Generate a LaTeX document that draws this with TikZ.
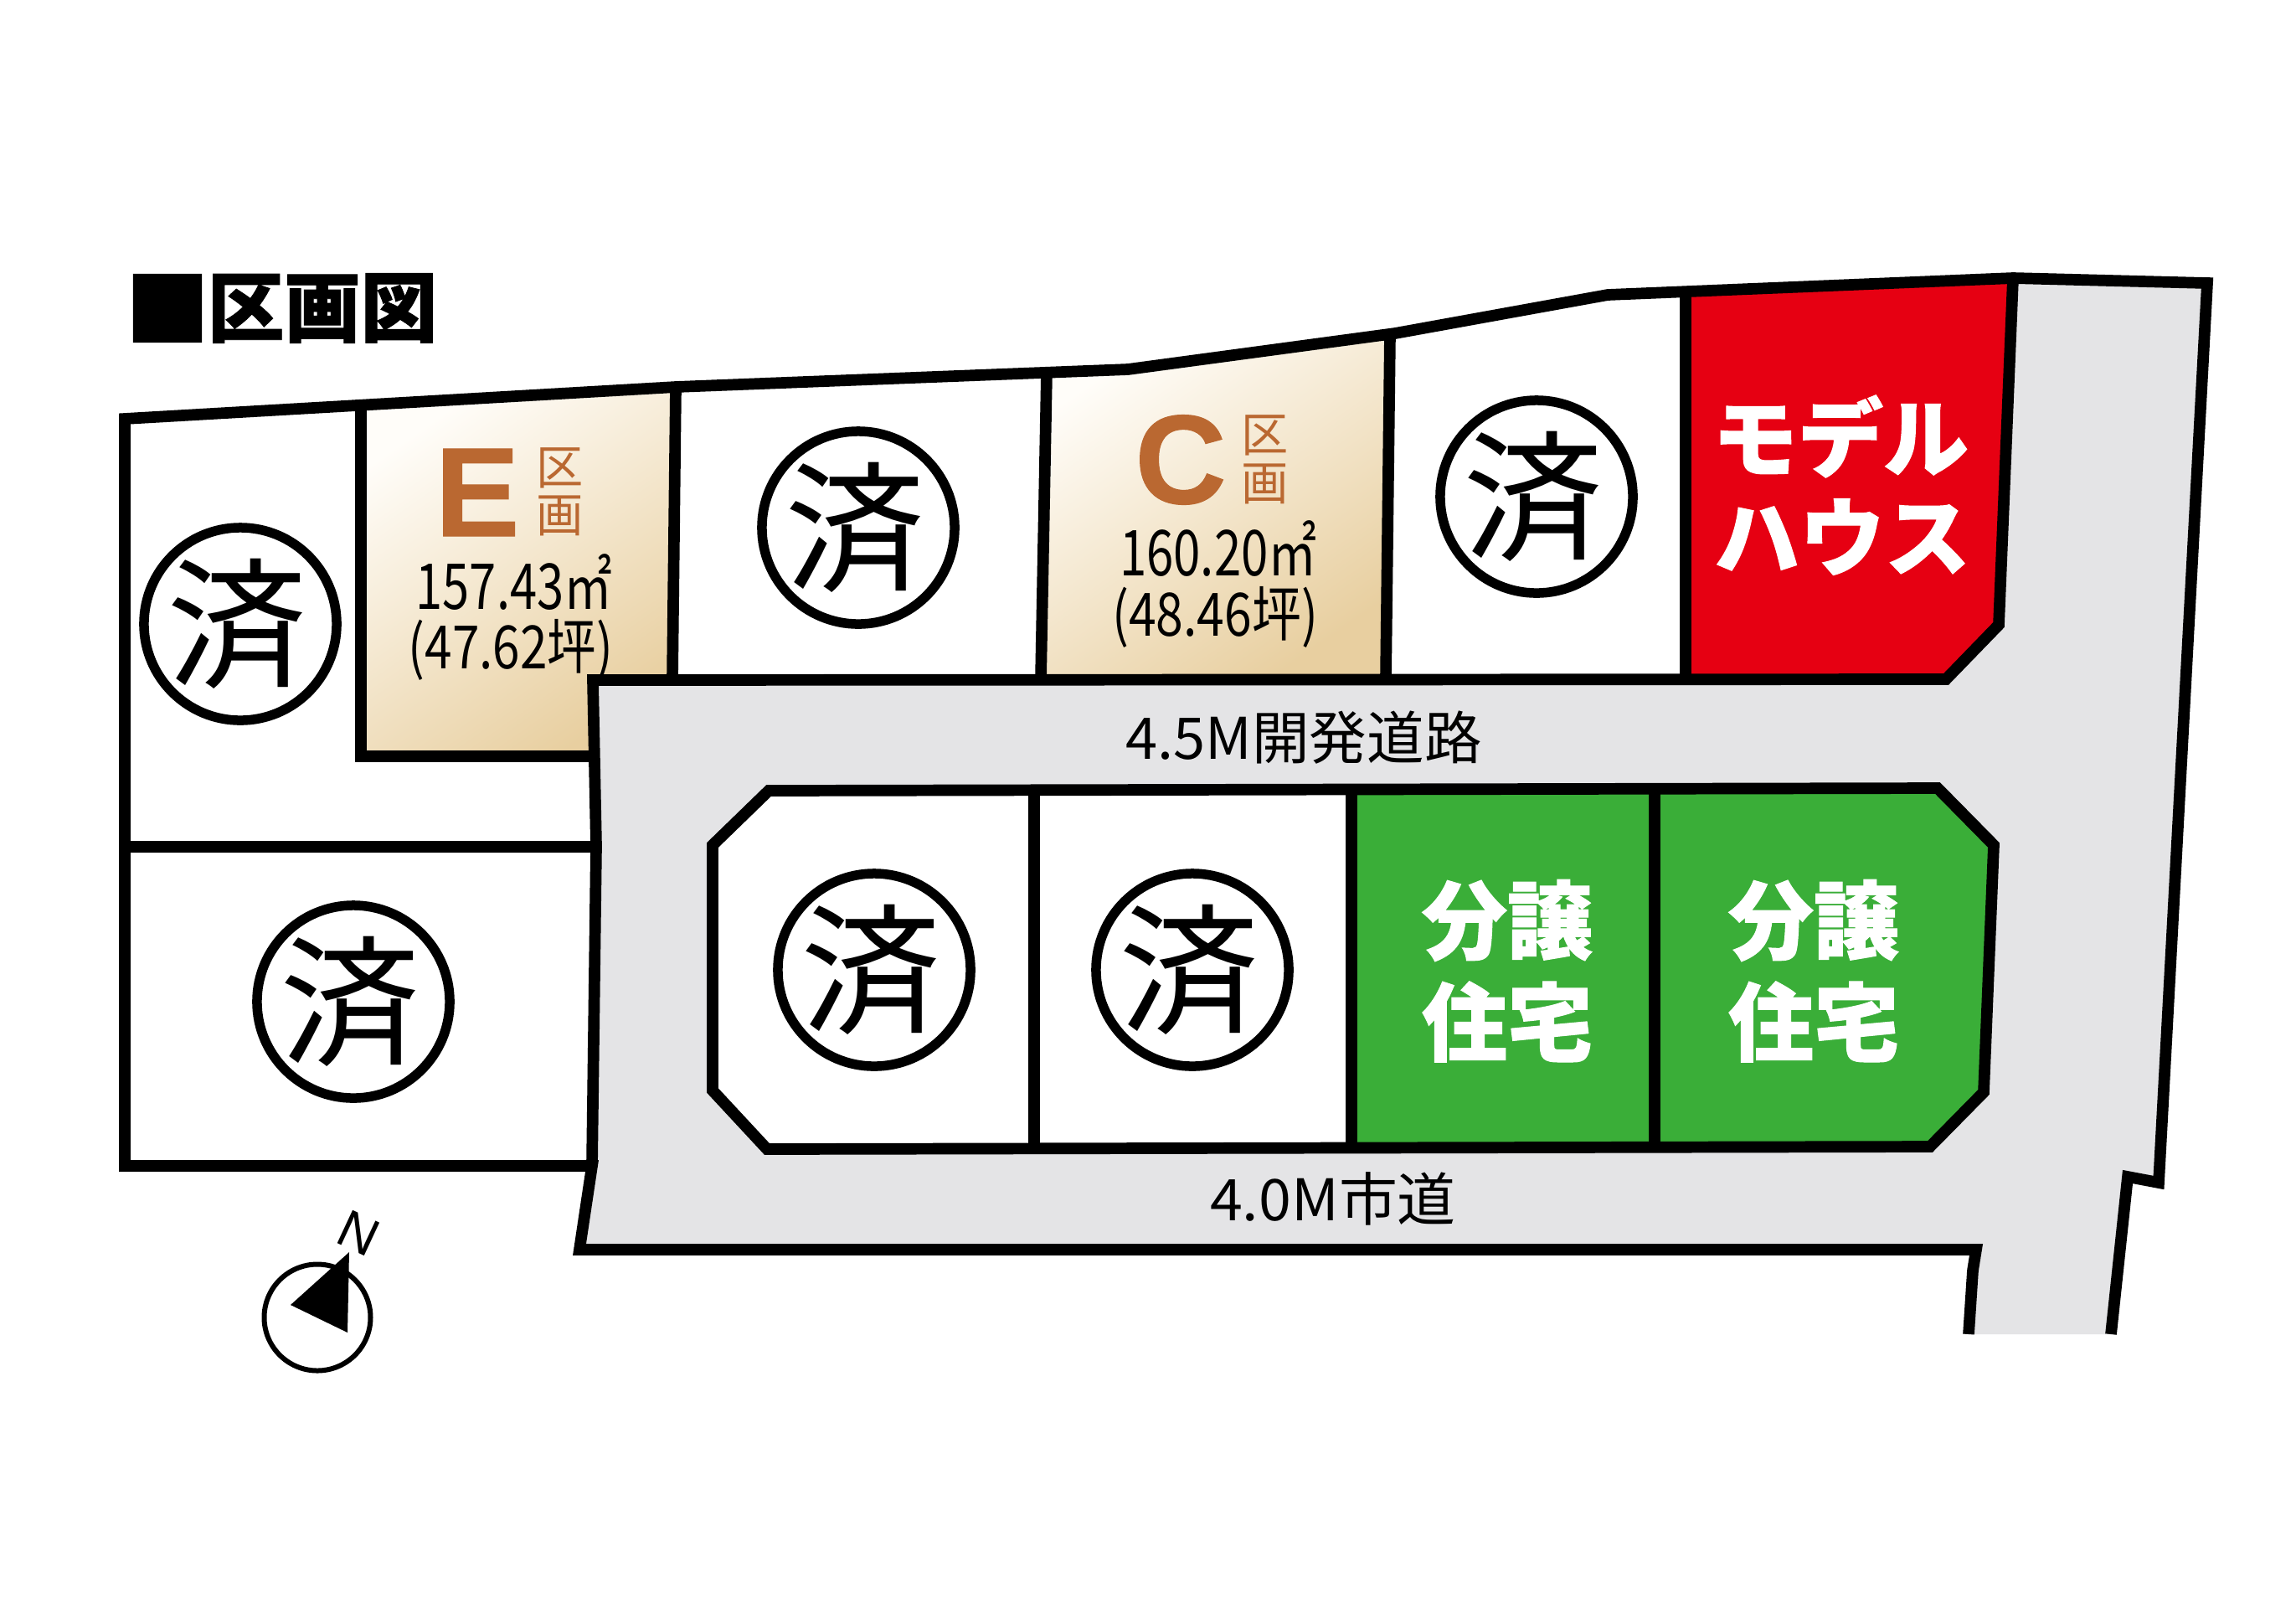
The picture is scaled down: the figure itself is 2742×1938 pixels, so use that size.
\documentclass[tikz,border=0pt]{standalone}
\usepackage{fontspec}
\setmainfont{Liberation Sans}
\newfontfamily\jp{Noto Sans CJK JP}[BoldFeatures={FakeBold=1}]
\newfontfamily\ls{Liberation Sans}[BoldFeatures={FakeBold=0.7}]
\newcommand{\fsz}[1]{\fontsize{#1pt}{#1pt}\selectfont}
\newcommand{\sumiglyph}{\kern-2pt 済}
\definecolor{roadgray}{HTML}{E4E4E6}
\definecolor{lotred}{HTML}{E60012}
\definecolor{lotgreen}{HTML}{3AAE38}
\definecolor{lottan}{HTML}{E8CFA0}
\definecolor{lotmid}{HTML}{F5E9D3}
\definecolor{lotlight}{HTML}{FFFDF9}
\definecolor{brownink}{HTML}{BA6831}
\tikzset{
  wall/.style={draw=black,line width=0.137cm,line join=miter,miter limit=10},
  lbl/.style={inner sep=0pt,outer sep=0pt},
  sumi/.style={circle,draw=black,line width=0.115cm,fill=white,inner sep=0pt,minimum size=2.3cm,font=\jp\fsz{47.5}},
  whitebold/.style={lbl,text=white,font=\jp\bfseries\fsz{29}},
  kubig/.style={lbl,text=brownink,font=\ls\bfseries\fsz{43}},
  kusmall/.style={lbl,text=brownink,font=\jp\fsz{16}},
  area/.style={lbl,text=black,font=\jp\fsz{21.5}},
  areab/.style={lbl,text=black,font=\jp\fsz{20.3}},
  road/.style={lbl,text=black,font=\jp\fsz{19.5}},
  lotshade/.style={shading=axis,top color=lotlight,middle color=lotmid,bottom color=lottan,shading angle=35}
}
\begin{document}
\begin{tikzpicture}[x=0.01cm,y=-0.01cm]
\useasboundingbox (0,0) rectangle (2742,1938);
\fill[white] (0,0) rectangle (2742,1938);
% road
\fill[roadgray] (2351,1593) -- (2356,1517) -- (2360,1492) -- (692,1492) -- (707,1392) -- (712,1010) -- (708,812) -- (2324,811) -- (2387,746) -- (2404,332) -- (2636,338) -- (2578,1412) -- (2541,1405) -- (2521,1593) -- cycle;
% coloured lots
\shade[lotshade] (431,486) -- (807,462) -- (803,812) -- (708,812) -- (708,903) -- (431,903) -- cycle;
\shade[lotshade] (1250,445) -- (1347,441) -- (1660,398) -- (1655,811) -- (1243,811) -- cycle;
\fill[lotred] (2013,348) -- (2404,332) -- (2387,746) -- (2324,811) -- (2013,811) -- cycle;
\fill[white] (918,944) -- (1614,943) -- (1614,1372) -- (916,1372) -- (851,1302) -- (851,1009) -- cycle;
\fill[lotgreen] (1614,943) -- (2314,941) -- (2381,1009) -- (2369,1304) -- (2305,1369) -- (1614,1372) -- cycle;
% outer outline
\draw[wall] (2351,1593) -- (2356,1517) -- (2360,1492) -- (692,1492) -- (707,1392) -- (149,1392) -- (149,500) -- (807,462) -- (1347,441) -- (1666,398) -- (1920,352) -- (2404,332) -- (2636,338) -- (2578,1412) -- (2541,1405) -- (2521,1593);
% inner walls
\draw[wall] (707,1392) -- (712,1010) -- (708,812) -- (2324,811) -- (2387,746) -- (2404,332);
\draw[wall] (149,1011) -- (712,1011);
\draw[wall] (431,486) -- (431,903) -- (708,903);
\draw[wall] (807,462) -- (803,812);
\draw[wall] (1250,445) -- (1243,811);
\draw[wall] (1660,398) -- (1655,811);
\draw[wall] (2013,348) -- (2013,811);
\draw[wall] (918,944) -- (2314,941) -- (2381,1009) -- (2369,1304) -- (2305,1369) -- (916,1372) -- (851,1302) -- (851,1009) -- cycle;
\draw[wall] (1235,944) -- (1235,1372);
\draw[wall] (1614,943) -- (1614,1372);
\draw[wall] (1976,942) -- (1976,1370);
% sold marks
\node[sumi] (s1) at (287,745) {\sumiglyph};
\node[sumi] (s2) at (1025,630) {\sumiglyph};
\node[sumi] (s3) at (1835,593) {\sumiglyph};
\node[sumi] (s4) at (422,1196) {\sumiglyph};
\node[sumi] (s5) at (1044,1158) {\sumiglyph};
\node[sumi] (s6) at (1424,1158) {\sumiglyph};
% title
\node[lbl,font=\jp\bfseries\fsz{28.8}] (titlesq) at (200,368) {■};
\node[lbl,font=\jp\bfseries\fsz{26}] (title) at (385,368) {区画図};
% lot E
\node[kubig] (e) at (570,588) {E};
\node[kusmall] (e1) at (669,559) {区};
\node[kusmall] (e2) at (669,616) {画};
\node[area,xscale=.765] (e3) at (614,695) {157.43㎡};
\node[areab,xscale=.82] (e4) at (610,776) {(47.62坪)};
% lot C
\node[kubig] (c) at (1410,549) {C};
\node[kusmall] (c1) at (1511,520) {区};
\node[kusmall] (c2) at (1511,578) {画};
\node[area,xscale=.77] (c3) at (1455,655) {160.20㎡};
\node[areab,xscale=.825] (c4) at (1451,737) {(48.46坪)};
% model house
\node[whitebold] (m1) at (2198,521) {モデル};
\node[whitebold] (m2) at (2200,641) {ハウス};
% for sale
\node[whitebold] (g1) at (1800,1099) {分譲};
\node[whitebold] (g2) at (1800,1220) {住宅};
\node[whitebold] (g3) at (2166,1099) {分譲};
\node[whitebold] (g4) at (2166,1220) {住宅};
% roads
\node[road] (r1) at (1557,881) {4.5M開発道路};
\node[road,xscale=1.02] (r2) at (1592,1431) {4.0M市道};
% north
\draw[black,line width=0.06cm] (379,1573) circle (63.5);
\fill[black] (417,1495) -- (347,1558) -- (415,1591) -- cycle;
\node[lbl,rotate=-25,font=\ls\fsz{18}] (n) at (428,1472) {N};
\end{tikzpicture}
\end{document}
